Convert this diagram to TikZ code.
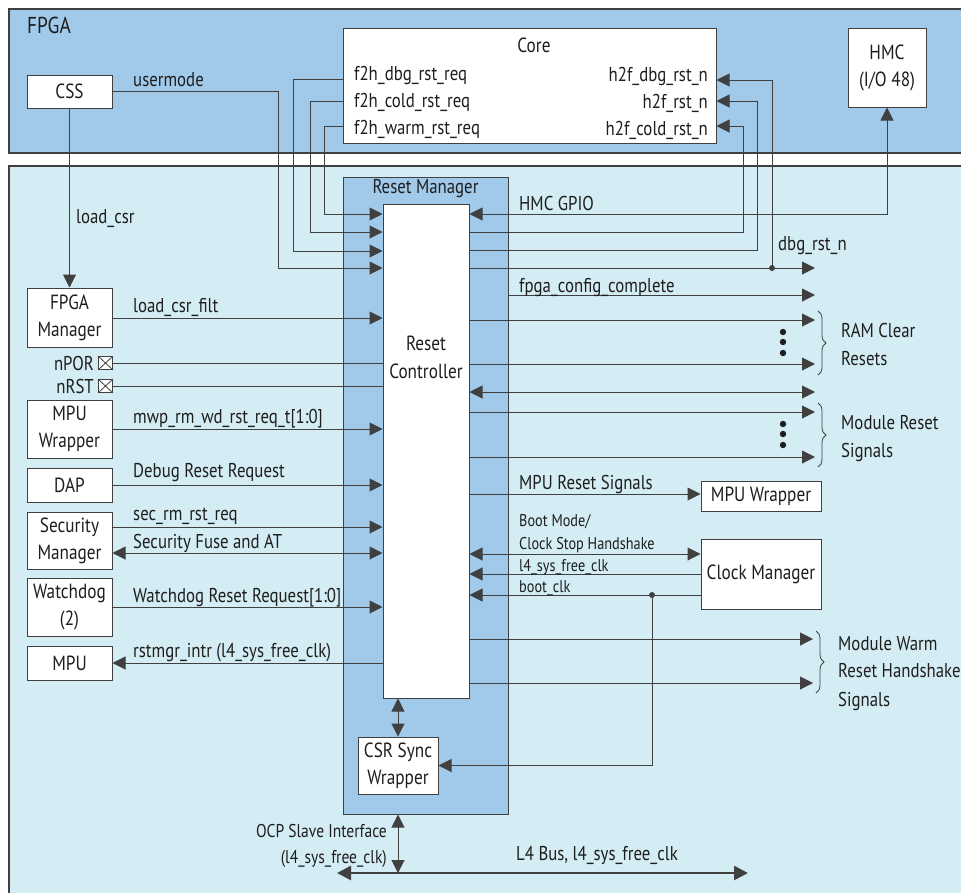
\documentclass[tikz,border=0pt]{standalone}
\usepackage{fontspec}
\setmainfont{PT Sans}[FakeStretch=0.84]
\usetikzlibrary{arrows.meta,decorations.pathreplacing}
\definecolor{fpgablue}{RGB}{160,201,234}
\definecolor{lightblue}{RGB}{212,236,243}
\definecolor{linegray}{RGB}{64,64,64}
\definecolor{txt}{RGB}{30,30,30}
\begin{document}
\begin{tikzpicture}[x=1pt,y=-1pt,
  box/.style={draw=linegray,fill=white,line width=1pt,inner sep=0pt,align=center,text=txt,font=\fontsize{20.5}{27}\selectfont},
  lbl/.style={inner sep=0pt,anchor=base west,text=txt,font=\fontsize{20}{27}\selectfont},
  lblr/.style={lbl,anchor=base east},
  small/.style={inner sep=0pt,anchor=base west,text=txt,font=\fontsize{17}{20}\selectfont},
  wire/.style={draw=linegray,line width=1pt},
  tip/.style={-{Triangle[length=13pt,width=13pt]}},
  tips/.style={{Triangle[length=13pt,width=13pt]}-{Triangle[length=13pt,width=13pt]}},
  brc/.style={draw=linegray,line width=0.8pt,decorate,decoration={brace,amplitude=8pt}},
  xbox/.style={draw=linegray,fill=white,line width=0.8pt,minimum width=14pt,minimum height=13pt,inner sep=0pt}
]
\useasboundingbox (0,0) rectangle (961,892);
\fill[white] (0,0) rectangle (961,892);
% regions
\filldraw[fill=fpgablue,draw=linegray,line width=1.2pt] (9,9) rectangle (975,153);
\filldraw[fill=lightblue,draw=linegray,line width=1.2pt] (9,166) rectangle (975,905);
\node[lbl,font=\fontsize{23}{26}\selectfont] (tfpga) at (27,33) {FPGA};

% reset manager
\node[draw=linegray,fill=fpgablue,line width=1pt,minimum width=165pt,minimum height=637pt,inner sep=0pt] (rstmgr) at (425.5,495.5) {};
\node[inner sep=0pt,anchor=base,text=txt,font=\fontsize{20}{22}\selectfont] (trm) at (425.5,193) {Reset Manager};
\node[box,minimum width=86pt,minimum height=494pt] (rc) at (426,451) {};
\node[inner sep=0pt,align=center,text=txt,font=\fontsize{20.5}{28}\selectfont] (trc) at (426,357) {Reset\\Controller};

% boxes
\node[box,minimum width=85pt,minimum height=33pt] (css) at (69.5,91.5) {CSS};
\node[box,minimum width=373pt,minimum height=115pt] (core) at (529.5,85.5) {};
\node[inner sep=0pt,anchor=base,text=txt,font=\fontsize{20.5}{22}\selectfont] (tcore) at (534,52) {Core};
\node[box,minimum width=78pt,minimum height=79pt] (hmc) at (887,67.5) {HMC\\(I/O 48)};
\node[box,minimum width=85pt,minimum height=59pt] (fpgam) at (69.5,317.5) {FPGA\\Manager};
\node[box,minimum width=85pt,minimum height=58pt] (mpuw) at (69.5,429) {MPU\\Wrapper};
\node[box,minimum width=85pt,minimum height=34pt] (dap) at (69.5,485) {DAP};
\node[box,minimum width=85pt,minimum height=57pt] (secm) at (69.5,540.5) {Security\\Manager};
\node[box,minimum width=85pt,minimum height=58pt] (wdog) at (69.5,607) {Watchdog\\(2)};
\node[box,minimum width=85pt,minimum height=34pt] (mpu) at (69.5,663) {MPU};
\node[box,minimum width=120pt,minimum height=30pt] (mpuw2) at (761,496) {MPU Wrapper};
\node[box,minimum width=120pt,minimum height=70pt] (clkm) at (761,574) {Clock Manager};
\node[box,minimum width=80pt,minimum height=57pt] (csr) at (398,765.5) {CSR Sync\\Wrapper};

% core labels
\node[lbl] (tf1) at (354,80) {f2h\_dbg\_rst\_req};
\node[lbl] (tf2) at (354,107) {f2h\_cold\_rst\_req};
\node[lbl] (tf3) at (354,134) {f2h\_warm\_rst\_req};
\node[lblr] (th1) at (708,81) {h2f\_dbg\_rst\_n};
\node[lblr] (th2) at (708,108) {h2f\_rst\_n};
\node[lblr] (th3) at (708,135) {h2f\_cold\_rst\_n};

% X pins
\node[xbox] (npor) at (105.5,363) {};
\node[xbox] (nrst) at (105.5,386) {};
\draw[linegray,line width=0.8pt] (npor.north west) -- (npor.south east) (npor.north east) -- (npor.south west);
\draw[linegray,line width=0.8pt] (nrst.north west) -- (nrst.south east) (nrst.north east) -- (nrst.south west);
\node[lblr] (tnpor) at (94,370) {nPOR};
\node[lblr] (tnrst) at (94,393) {nRST};

% free-end coordinates
\coordinate (o1) at (815,268);
\coordinate (o2) at (815,295);
\coordinate (o3) at (815,320);
\coordinate (o4) at (815,364);
\coordinate (o5) at (815,392);
\coordinate (o6) at (815,412);
\coordinate (o7) at (815,457);
\coordinate (o8) at (813,639);
\coordinate (o9) at (813,683);
\coordinate (l4a) at (337,873);
\coordinate (l4b) at (748,873);
\coordinate (jd) at (772,268);
\coordinate (jb) at (652,595);

% left-side inputs
\draw[wire,tip] (css.east) -| (278,268) -- (rc.west|-0,268);
\draw[wire,tip] (core.west|-0,79) -| (293,251) -- (rc.west|-0,251);
\draw[wire,tip] (core.west|-0,101) -| (310,232) -- (rc.west|-0,232);
\draw[wire,tip] (core.west|-0,126) -| (324,214) -- (rc.west|-0,214);
\draw[wire,tip] (css.south) -- (fpgam.north);
\draw[wire,tip] (fpgam.east|-0,318) -- (rc.west|-0,318);
\draw[wire] (npor.east) -- (rc.west|-npor.east);
\draw[wire] (nrst.east) -- (rc.west|-nrst.east);
\draw[wire,tip] (mpuw.east|-0,429) -- (rc.west|-0,429);
\draw[wire,tip] (dap.east) -- (rc.west|-dap.east);
\draw[wire,tip] (secm.east|-0,527) -- (rc.west|-0,527);
\draw[wire,tips] (secm.east|-0,553) -- (rc.west|-0,553);
\draw[wire,tip] (wdog.east) -- (rc.west|-wdog.east);
\draw[wire,tip] (rc.west|-mpu.east) -- (mpu.east);

% right side
\draw[wire,tip] (rc.east|-0,232) -| (743,126) -- (core.east|-0,126);
\draw[wire,tip] (rc.east|-0,250) -| (757,101) -- (core.east|-0,101);
\draw[wire,tip] (jd) |- (core.east|-0,80);
\draw[wire,tips] (hmc.south) |- (rc.east|-0,214);
\draw[wire,tip] (rc.east|-o1) -- (o1);
\fill[linegray] (jd) circle (3pt);
\draw[wire,tip] (rstmgr.east|-o2) -- (o2);
\draw[wire,tip] (rc.east|-o3) -- (o3);
\draw[wire,tip] (rc.east|-o4) -- (o4);
\draw[wire,tips] (rc.east|-o5) -- (o5);
\draw[wire,tip] (rc.east|-o6) -- (o6);
\draw[wire,tip] (rc.east|-o7) -- (o7);
\draw[wire,tip] (rc.east|-0,494) -- (mpuw2.west|-0,494);
\draw[wire,tips] (rc.east|-0,554) -- (clkm.west|-0,554);
\draw[wire,tip] (clkm.west|-0,574) -- (rc.east|-0,574);
\draw[wire,tip] (clkm.west|-jb) -- (rc.east|-jb);
\draw[wire,tip] (jb) |- (csr.east);
\fill[linegray] (jb) circle (3pt);
\draw[wire,tip] (rc.east|-o8) -- (o8);
\draw[wire,tip] (rc.east|-o9) -- (o9);
\draw[wire,tips] (csr.north|-rc.south) -- (csr.north);
\draw[wire,tips] (csr.south|-rstmgr.south) -- (csr.south|-l4a);
\draw[draw=linegray,line width=2.6pt,{Triangle[length=14pt,width=14pt]}-{Triangle[length=14pt,width=14pt]}] (l4a) -- (l4b);

% dots
\foreach \yy [count=\i] in {332,342,353,424,434,445} {
  \fill[txt] (783,\yy) circle (3.2pt);
}

% braces
\draw[brc] (818,311) -- (818,375);
\draw[brc] (818,403) -- (818,467);
\draw[brc] (816,631) -- (816,693);

% labels
\node[lbl] (tum) at (133,86) {usermode};
\node[lbl] (tlc) at (76,223) {load\_csr};
\node[lbl] (tlcf) at (133,312) {load\_csr\_filt};
\node[lbl] (tmwp) at (133,423) {mwp\_rm\_wd\_rst\_req\_t[1:0]};
\node[lbl] (tdbg) at (133,477) {Debug Reset Request};
\node[lbl] (tsec) at (133,520) {sec\_rm\_rst\_req};
\node[lbl] (tfuse) at (133,548) {Security Fuse and AT};
\node[lbl] (twd) at (133,602) {Watchdog Reset Request[1:0]};
\node[lbl] (tint) at (133,657) {rstmgr\_intr (l4\_sys\_free\_clk)};
\node[lbl] (thmc) at (519,210) {HMC GPIO};
\node[lbl] (tdrn) at (778,250) {dbg\_rst\_n};
\node[lbl] (tfcc) at (519,292) {fpga\_config\_complete};
\node[lbl] (tram) at (841,337) {RAM Clear};
\node[lbl] (tram2) at (841,365) {Resets};
\node[lbl] (tmod) at (841,429) {Module Reset};
\node[lbl] (tmod2) at (841,457) {Signals};
\node[lbl] (tmpurs) at (519,489) {MPU Reset Signals};
\node[small] (tbm) at (519,526) {Boot Mode/};
\node[small] (tcs) at (519,549) {Clock Stop Handshake};
\node[small] (tl4) at (519,571) {l4\_sys\_free\_clk};
\node[small] (tbc) at (519,592) {boot\_clk};
\node[lbl] (tmw) at (838,650) {Module Warm};
\node[lbl] (tmw2) at (838,677) {Reset Handshake};
\node[lbl] (tmw3) at (838,706) {Signals};
\node[lblr,font=\fontsize{18.5}{22}\selectfont] (tocp) at (387,837) {OCP Slave Interface};
\node[lblr,font=\fontsize{18.5}{22}\selectfont] (tocp2) at (387,863) {(l4\_sys\_free\_clk)};
\node[lbl,anchor=base] (tl4b) at (597,860) {L4 Bus, l4\_sys\_free\_clk};
\end{tikzpicture}
\end{document}
